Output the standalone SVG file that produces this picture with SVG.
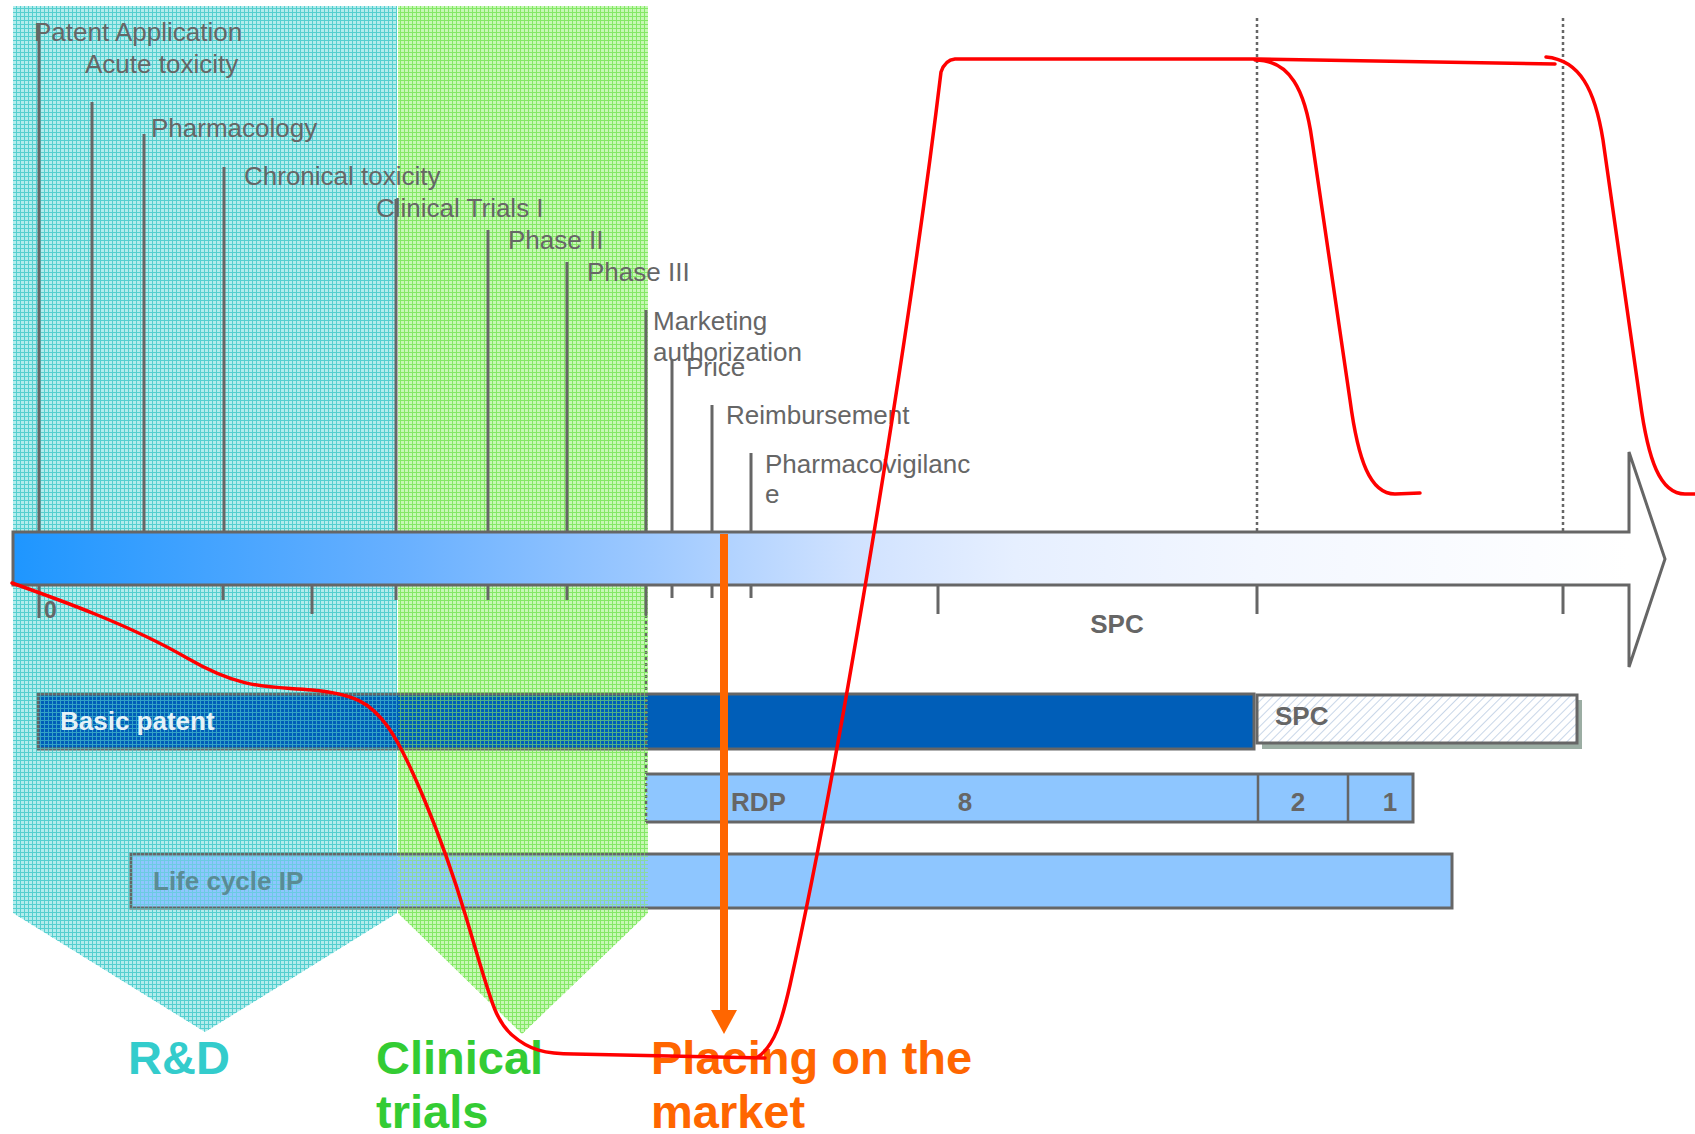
<svg xmlns="http://www.w3.org/2000/svg" width="1695" height="1134" viewBox="0 0 1695 1134">
<style>
.lbl{font-family:"Liberation Sans",Arial,sans-serif;font-size:26px;fill:#666}
.b{font-family:"Liberation Sans",Arial,sans-serif;font-size:26px;font-weight:bold;fill:#666}
.big{font-family:"Liberation Sans",Arial,sans-serif;font-size:47px;font-weight:bold}
.ln{stroke:#666;stroke-width:3;fill:none}
.dot{stroke:#666;stroke-width:2.5;stroke-dasharray:3 3;fill:none}
.red{stroke:#f00;stroke-width:3.5;fill:none;stroke-linecap:round;stroke-linejoin:round}
.bar{stroke:#666;stroke-width:3}
</style>
<defs>
<pattern id="cyB" width="4" height="4" patternUnits="userSpaceOnUse"><rect width="4" height="4" fill="#b2ecec"/><path d="M0 .5H4M.5 0V4" stroke="#55cfcf" stroke-width="1"/></pattern>
<pattern id="cyO" width="4" height="4" patternUnits="userSpaceOnUse"><path d="M0 .5H4M.5 0V4" stroke="#55cfcf" stroke-width="1"/></pattern>
<pattern id="grB" width="4" height="4" patternUnits="userSpaceOnUse"><rect width="4" height="4" fill="#c6f8b4"/><path d="M0 .5H4M.5 0V4" stroke="#84e866" stroke-width="1"/></pattern>
<pattern id="grO" width="4" height="4" patternUnits="userSpaceOnUse"><path d="M0 .5H4M.5 0V4" stroke="#84e866" stroke-width="1"/></pattern>
<pattern id="hatch" width="6" height="6" patternUnits="userSpaceOnUse" patternTransform="rotate(45)"><rect width="6" height="6" fill="#fff"/><path d="M0 0V6" stroke="#c8d6e8" stroke-width="2"/></pattern>
<linearGradient id="tl" gradientUnits="userSpaceOnUse" x1="13" y1="0" x2="1629" y2="0">
<stop offset="0" stop-color="#1e96ff"/>
<stop offset="0.24" stop-color="#68b0ff"/>
<stop offset="0.39" stop-color="#9cc8ff"/>
<stop offset="0.52" stop-color="#d0e2ff"/>
<stop offset="0.62" stop-color="#e6efff"/>
<stop offset="0.77" stop-color="#f3f7ff"/>
<stop offset="1" stop-color="#ffffff"/>
</linearGradient>
<marker id="oa" markerUnits="userSpaceOnUse" markerWidth="26" markerHeight="26" viewBox="0 0 24 26" refX="0" refY="13" orient="auto"><path d="M0 0L24 13L0 26Z" fill="#ff6600"/></marker>
</defs>

<g id="zones-base">
<polygon points="13,6 397,6 397,913 205,1032 13,913" fill="url(#cyB)"/>
<polygon points="398,6 648,6 648,913 522,1034 398,913" fill="url(#grB)"/>
</g>

<g id="basic-patent">
<rect class="bar" x="38" y="694" width="1216" height="55" fill="#005eb8"/>
</g>
<g id="spc-box">
<rect x="1262" y="700" width="320" height="49" fill="#9bada3"/>
<rect class="bar" x="1257" y="695" width="320" height="48" fill="url(#hatch)"/>
<text class="b" x="1275" y="725">SPC</text>
</g>
<g id="rdp">
<rect x="646" y="774" width="767" height="48" fill="#8ec6ff"/>
<path class="ln" d="M646 774H1413V822H646"/>
<path class="dot" d="M646 615V822"/>
<path class="ln" d="M1258 774V822M1348 774V822" style="stroke-width:2.5"/>
<text class="b" x="731" y="811">RDP</text>
<text class="b" x="965" y="811" text-anchor="middle">8</text>
<text class="b" x="1298" y="811" text-anchor="middle">2</text>
<text class="b" x="1390" y="811" text-anchor="middle">1</text>
</g>
<g id="life-cycle">
<rect class="bar" x="131" y="854" width="1321" height="54" fill="#8ec6ff"/>
</g>

<g id="zones-over" opacity="0.6">
<polygon points="13,6 397,6 397,913 205,1032 13,913" fill="url(#cyO)"/>
<polygon points="398,6 648,6 648,913 522,1034 398,913" fill="url(#grO)"/>
</g>

<g id="bar-labels">
<text class="b" x="60" y="730" style="fill:#e4f2f8">Basic patent</text>
<text class="b" x="153" y="890" style="fill:#5a8c94">Life cycle IP</text>
</g>

<g id="timeline">
<path d="M13 532H1629V452L1665 559L1629 667V585H13Z" fill="url(#tl)" stroke="#666" stroke-width="3"/>
<path class="dot" d="M1257 18V531M1563 18V531"/>
<path class="ln" d="M39 586V618M223 586V600M312 586V614M396 586V600M488 586V600M567 586V600M646 586V615M672 586V598M712 586V598M751 586V598M938 586V614M1257 586V614M1563 586V614"/>
<text class="b" x="44" y="618" style="font-size:23px">0</text>
<text class="b" x="1117" y="633" text-anchor="middle">SPC</text>
</g>

<g id="milestones">
<path class="ln" d="M39 23V532M92 102V532M144 134V532M224 167V532M396 199V532M488 230V532M567 262V532M646 310V532M672 360V532M712 405V532M751 453V532"/>
<text class="lbl" x="34" y="41">Patent Application</text>
<text class="lbl" x="85" y="73">Acute toxicity</text>
<text class="lbl" x="151" y="137">Pharmacology</text>
<text class="lbl" x="244" y="185">Chronical toxicity</text>
<text class="lbl" x="376" y="217">Clinical Trials I</text>
<text class="lbl" x="508" y="249">Phase II</text>
<text class="lbl" x="587" y="281">Phase III</text>
<text class="lbl" x="653" y="330">Marketing</text>
<text class="lbl" x="653" y="361">authorization</text>
<text class="lbl" x="686" y="376">Price</text>
<text class="lbl" x="726" y="424">Reimbursement</text>
<text class="lbl" x="765" y="473">Pharmacovigilanc</text>
<text class="lbl" x="765" y="503">e</text>
</g>

<g id="phase-labels">
<text class="big" x="128" y="1074" fill="#33cccc">R&amp;D</text>
<text class="big" x="376" y="1074" fill="#33cc33">Clinical</text>
<text class="big" x="376" y="1128" fill="#33cc33">trials</text>
<text class="big" x="651" y="1074" fill="#ff6600">Placing on the</text>
<text class="big" x="651" y="1128" fill="#ff6600">market</text>
</g>

<g id="connectors">
<path d="M724 534V1010" stroke="#ff6600" stroke-width="8" fill="none" marker-end="url(#oa)"/>
<path class="red" d="M12 583C60 600 130 625 187 658S270 686 312 690S370 702 388 727S440 830 466 917S495 1020 512 1035S545 1054 574 1054L765 1058"/>
<path class="red" d="M758 1057C775 1045 782 1020 790 985C840 760 910 330 941 72Q945 60 955 59L1258 59L1555 64"/>
<path class="red" d="M1255 60C1290 60 1305 90 1312 140L1350 400C1358 460 1370 494 1395 494L1420 493"/>
<path class="red" d="M1546 57C1580 60 1595 90 1603 140L1640 400C1648 460 1660 494 1685 494L1695 494"/>
</g>
</svg>
